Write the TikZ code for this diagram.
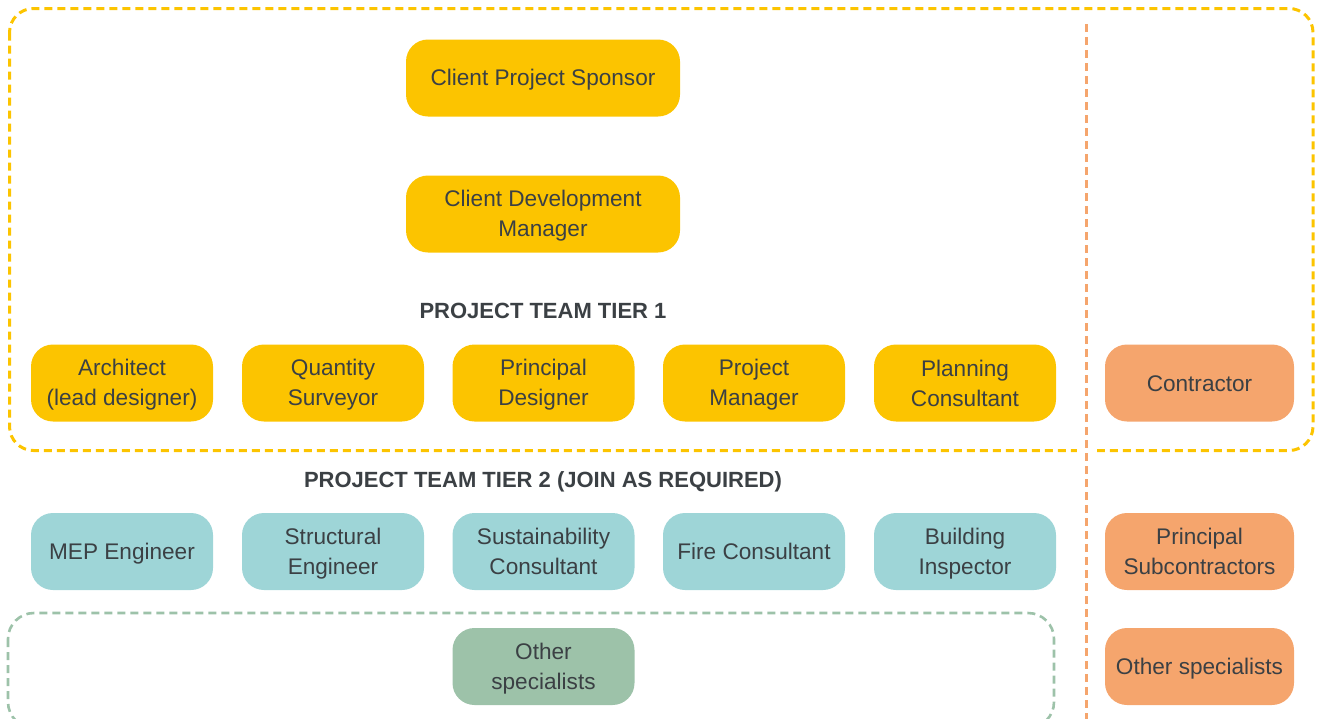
\documentclass[tikz,border=0pt]{standalone}
\usepackage{fontspec}
\setmainfont{Liberation Sans}
\definecolor{cyellow}{HTML}{FCC400}
\definecolor{corange}{HTML}{F5A56D}
\definecolor{cteal}{HTML}{9ED5D7}
\definecolor{cgreen}{HTML}{9DC2A9}
\definecolor{ctext}{HTML}{3B4044}
\newcommand{\ls}{\rule[-4pt]{0pt}{24pt}}
\begin{document}
\begin{tikzpicture}[x=1pt,y=-1pt,
  box/.style={rounded corners=22pt, minimum width=182pt, minimum height=77pt, inner sep=0pt, align=center, text=ctext, font=\fontsize{22.6}{30}\selectfont},
  wbox/.style={box, minimum width=274pt},
  obox/.style={box, minimum width=189pt, fill=corange},
  ybox/.style={box, fill=cyellow},
  tbox/.style={box, fill=cteal},
  gbox/.style={box, fill=cgreen},
  heading/.style={text=ctext, font=\fontsize{22}{26}\selectfont\bfseries, inner sep=0pt},
  dashpat/.style={line width=3pt, dash pattern=on 8pt off 5pt},
  yframe/.style={dashpat, draw=cyellow, rounded corners=24pt},
  gframe/.style={dashpat, line width=2.6pt, draw=cgreen, rounded corners=26pt},
  sepline/.style={dashpat, draw=corange}
]
\useasboundingbox (0,0) rectangle (1324,718);
\begin{scope}
\clip (0,0) rectangle (1324,718);
% frames
\draw[yframe] (9.5,8.5) rectangle (1313,450.5);
\fill[white] (1077,440) rectangle (1097,460);
\draw[gframe] (8,613) rectangle (1054,728);
\coordinate (septop) at (1086,24);
\coordinate (sepbot) at (1086,730);
\draw[sepline] (septop) -- (sepbot);
\end{scope}

% top nodes
\node[wbox, fill=cyellow] (sponsor) at (543,78) {\ls Client Project Sponsor};
\node[wbox, fill=cyellow] (devman) at (543,214) {\ls Client Development\\\ls Manager};

\node[heading, text depth=0pt, anchor=base] (tier1) at (543,318) {PROJECT TEAM TIER 1};

\node[ybox] (arch) at (122,383) {\ls Architect\\\ls (lead designer)};
\node[ybox] (qs) at (333,383) {\ls Quantity\\\ls Surveyor};
\node[ybox] (pd) at (543.5,383) {\ls Principal\\\ls Designer};
\node[ybox] (pm) at (754,383) {\ls Project\\\ls Manager};
\node[ybox] (pc) at (965,383) {\ls Planning\\\ls Consultant};
\node[obox] (contr) at (1199.5,383) {\ls Contractor};

\node[heading, anchor=base] (tier2) at (543,487) {PROJECT TEAM TIER 2 (JOIN AS REQUIRED)};

\node[tbox] (mep) at (122,551.5) {\ls MEP Engineer};
\node[tbox] (struct) at (333,551.5) {\ls Structural\\\ls Engineer};
\node[tbox] (sust) at (543.5,551.5) {\ls Sustainability\\\ls Consultant};
\node[tbox] (fire) at (754,551.5) {\ls Fire Consultant};
\node[tbox] (bi) at (965,551.5) {\ls Building\\\ls Inspector};
\node[obox] (psub) at (1199.5,551.5) {\ls Principal\\\ls Subcontractors};

\node[gbox] (other) at (543.5,666.5) {\ls Other\\\ls specialists};
\node[obox] (oother) at (1199.5,666.5) {\ls Other specialists};
\end{tikzpicture}
\end{document}
